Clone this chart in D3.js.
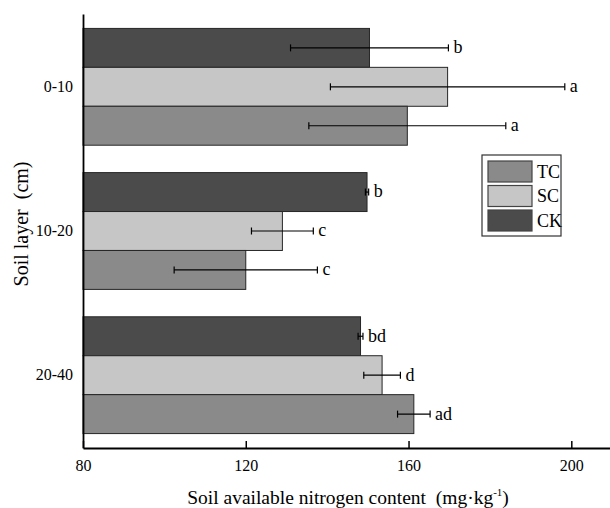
<!DOCTYPE html>
<html>
<head>
<meta charset="utf-8">
<script src="https://cdn.jsdelivr.net/npm/d3@7"></script>
<style>
  body { margin: 0; background: #fff; }
</style>
</head>
<body>
<div id="chart"></div>
<script>
// soil layers (top to bottom) and treatments inside each layer (top to bottom)
const layers = ["0-10", "10-20", "20-40"];
const treatments = ["CK", "SC", "TC"];
const legendOrder = ["TC", "SC", "CK"];

// mean values, per layer
const ckValues = [150.4, 149.8, 148.2];
const scValues = [169.6, 129.0, 153.5];
const tcValues = [159.7, 120.0, 161.3];

// error bars (half width)
const ckErrors = [19.4, 0.4, 0.6];
const scErrors = [28.8, 7.6, 4.5];
const tcErrors = [24.2, 17.6, 4.0];

// significance letters
const ckLetters = ["b", "b", "bd"];
const scLetters = ["a", "c", "d"];
const tcLetters = ["a", "c", "ad"];

const xTicks = [80, 120, 160, 200];

const colors = { CK: "#4b4b4b", SC: "#c6c6c6", TC: "#8a8a8a" };
const serif = "'Liberation Serif', 'Times New Roman', serif";

const series = {
  CK: { v: ckValues, e: ckErrors, l: ckLetters },
  SC: { v: scValues, e: scErrors, l: scLetters },
  TC: { v: tcValues, e: tcErrors, l: tcLetters }
};

let rows = [];
layers.forEach((layer, i) => {
  treatments.forEach(t => {
    rows.push({ layer: layer, t: t, value: series[t].v[i], err: series[t].e[i], letter: series[t].l[i] });
  });
});

let width = 610, height = 508;
let plotLeft = 83, plotTop = 14, plotBottom = 448, plotRight = 612;

let svg = d3.select("#chart").append("svg")
  .attr("width", width)
  .attr("height", height)
  .style("font-family", serif);

let xScale = d3.scaleLinear().domain([80, 210]).range([plotLeft, plotRight]);

let yGroup = d3.scaleBand()
  .domain(layers)
  .range([plotTop, plotBottom])
  .paddingInner(0.19)
  .paddingOuter(0.1);

let yInner = d3.scaleBand()
  .domain(treatments)
  .range([0, yGroup.bandwidth()]);

// bars
svg.append("g").selectAll("rect")
  .data(rows)
  .enter()
  .append("rect")
  .attr("x", xScale(80))
  .attr("y", d => yGroup(d.layer) + yInner(d.t))
  .attr("width", d => xScale(d.value) - xScale(80))
  .attr("height", yInner.bandwidth())
  .attr("fill", d => colors[d.t])
  .attr("stroke", "#262626")
  .attr("stroke-width", 1);

// error bars
let eb = svg.append("g").selectAll("g")
  .data(rows)
  .enter()
  .append("g")
  .attr("transform", d => `translate(0,${yGroup(d.layer) + yInner(d.t) + yInner.bandwidth() / 2})`);

eb.append("line")
  .attr("x1", d => xScale(d.value - d.err))
  .attr("x2", d => xScale(d.value + d.err))
  .attr("stroke", "#000")
  .attr("stroke-width", 1.2);

eb.selectAll(".cap")
  .data(d => [d.value - d.err, d.value + d.err])
  .enter()
  .append("line")
  .attr("x1", v => xScale(v))
  .attr("x2", v => xScale(v))
  .attr("y1", -3.5)
  .attr("y2", 3.5)
  .attr("stroke", "#000")
  .attr("stroke-width", 1.2);

eb.append("text")
  .attr("x", d => xScale(d.value + d.err) + 5)
  .attr("dy", "0.3em")
  .style("font-family", serif)
  .style("font-size", "18px")
  .text(d => d.letter);

// x axis, ticks pointing inward
let xAxis = svg.append("g")
  .attr("transform", `translate(0,${plotBottom})`)
  .call(d3.axisBottom(xScale).tickValues(xTicks).tickSizeInner(-7).tickSizeOuter(0).tickPadding(12));
xAxis.attr("font-family", null);
xAxis.select(".domain").attr("stroke-width", 2);
xAxis.selectAll(".tick line").attr("stroke-width", 1.5);
xAxis.selectAll("text").attr("fill", "#000")
  .style("font-family", serif).style("font-size", "16px");

// y axis
let yAxis = svg.append("g")
  .attr("transform", `translate(${plotLeft},0)`)
  .call(d3.axisLeft(yGroup).tickSize(0).tickPadding(10));
yAxis.attr("font-family", null);
yAxis.select(".domain").attr("stroke-width", 1.8);
yAxis.selectAll("text").attr("fill", "#000")
  .style("font-family", serif).style("font-size", "16px");

// axis titles
let xTitle = svg.append("text")
  .attr("text-anchor", "middle")
  .attr("x", 348)
  .attr("y", 504)
  .style("font-family", serif)
  .style("font-size", "19.5px");
xTitle.append("tspan").text("Soil available nitrogen content\u00a0\u00a0(mg\u00b7kg");
xTitle.append("tspan").style("font-size", "11px").attr("dy", -8).text("-1");
xTitle.append("tspan").attr("dy", 8).text(")");

svg.append("text")
  .attr("text-anchor", "middle")
  .attr("transform", "translate(28,224) rotate(-90)")
  .style("font-family", serif)
  .style("font-size", "20px")
  .text("Soil layer\u00a0\u00a0(cm)");

// legend
let legend = svg.append("g").attr("transform", "translate(482,155)");
legend.append("rect")
  .attr("width", 79)
  .attr("height", 81)
  .attr("fill", "#fff")
  .attr("stroke", "#333")
  .attr("stroke-width", 1.2);

let items = legend.selectAll(".item")
  .data(legendOrder)
  .enter()
  .append("g")
  .attr("transform", (d, i) => `translate(6,${6 + i * 24.5})`);

items.append("rect")
  .attr("width", 44)
  .attr("height", 21)
  .attr("fill", d => colors[d])
  .attr("stroke", "#444")
  .attr("stroke-width", 1.2);

items.append("text")
  .attr("x", 49)
  .attr("y", 10.5)
  .attr("dy", "0.35em")
  .style("font-family", serif)
  .style("font-size", "18px")
  .text(d => d);
</script>
</body>
</html>
